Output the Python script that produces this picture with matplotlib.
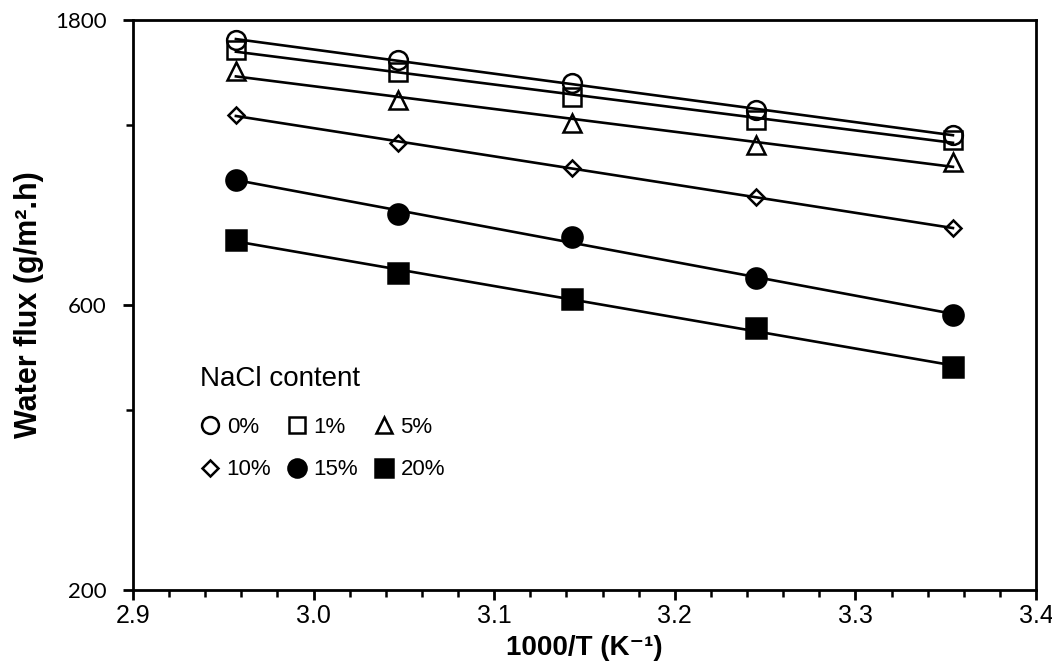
import numpy as np
import matplotlib

matplotlib.use("Agg")
import matplotlib.pyplot as plt
from matplotlib.ticker import FixedLocator, MultipleLocator, NullFormatter, FixedFormatter
from matplotlib import font_manager

# ------------------------------------------------------------
# Data (water flux vs 1000/T, log scale)
# ------------------------------------------------------------
inv_T = np.array([2.957, 3.047, 3.143, 3.245, 3.354])

flux_0 = np.array([1666, 1543, 1412, 1272, 1155])
flux_1 = np.array([1603, 1473, 1338, 1224, 1133])
flux_5 = np.array([1479, 1322, 1210, 1112, 1041])
flux_10 = np.array([1248, 1120, 1017, 910, 807])
flux_15 = np.array([971, 852, 780, 666, 577])
flux_20 = np.array([771, 679, 614, 549, 472])

labels = ["0%", "1%", "5%", "10%", "15%", "20%"]
series = [flux_0, flux_1, flux_5, flux_10, flux_15, flux_20]

y_ticks = [200, 600, 1800]
y_minor = [400, 1200]

# marker, filled, size
styles = [
    ("o", False, 13.5),
    ("s", False, 13.5),
    ("^", False, 13.5),
    ("D", False, 8.5),
    ("o", True, 14.5),
    ("s", True, 14.5),
]

names = {f.name for f in font_manager.fontManager.ttflist}
NARROW = [n for n in ["Liberation Sans Narrow", "Arial Narrow"] if n in names]
NARROW = NARROW + ["Liberation Sans", "DejaVu Sans"]
SANS = ["Liberation Sans", "DejaVu Sans"]

fig = plt.figure(figsize=(10.52, 6.66), dpi=100)
ax = fig.add_axes([0.1264, 0.1141, 0.8584, 0.8559])

handles = []
for vals, lab, (mk, filled, ms) in zip(series, labels, styles):
    # exponential trend line (straight on log axis)
    b, a = np.polyfit(inv_T, np.log(vals), 1)
    xl = np.array([inv_T.min(), inv_T.max()])
    ax.plot(xl, np.exp(a + b * xl), color="black", lw=1.9, zorder=2)

    h, = ax.plot(
        inv_T,
        vals,
        linestyle="none",
        marker=mk,
        markersize=ms,
        markerfacecolor="black" if filled else "none",
        markeredgecolor="black",
        markeredgewidth=1.8,
        zorder=3,
        label=lab,
    )
    handles.append(h)

ax.set_yscale("log")
ax.set_ylim(200, 1800)
ax.set_xlim(2.9, 3.4)

ax.yaxis.set_major_locator(FixedLocator(y_ticks))
ax.yaxis.set_major_formatter(FixedFormatter([str(v) for v in y_ticks]))
ax.yaxis.set_minor_locator(FixedLocator(y_minor))
ax.yaxis.set_minor_formatter(NullFormatter())

ax.xaxis.set_major_locator(MultipleLocator(0.1))
ax.xaxis.set_minor_locator(MultipleLocator(0.02))
ax.xaxis.set_major_formatter(matplotlib.ticker.FormatStrFormatter("%.1f"))

for s in ax.spines.values():
    s.set_linewidth(2.0)
    s.set_color("black")

ax.tick_params(axis="both", which="major", direction="out", length=7, width=2,
               labelsize=16, pad=12)
ax.tick_params(axis="both", which="minor", direction="out", length=5, width=1.8)
ax.tick_params(axis="x", which="major", pad=3)

for t in ax.get_yticklabels():
    t.set_family(["Lato", "DejaVu Sans"])
for t in ax.get_xticklabels():
    t.set_family(NARROW)
    t.set_fontsize(18)

ax.set_xlabel("1000/T (K⁻¹)", fontsize=20, fontweight="bold",
              family=NARROW, labelpad=5)
ax.set_ylabel("Water flux (g/m².h)", fontsize=22, fontweight="bold",
              family=SANS, labelpad=8)

# legend filled row by row: 0% 1% 5% / 10% 15% 20%
order = [0, 3, 1, 4, 2, 5]
leg = ax.legend(
    handles=[handles[i] for i in order],
    labels=[labels[i] for i in order],
    ncol=3,
    title="NaCl content",
    frameon=False,
    loc="upper left",
    bbox_to_anchor=(0.062, 0.412),
    borderpad=0,
    alignment="left",
    handlelength=0.9,
    handletextpad=0.3,
    columnspacing=0.7,
    labelspacing=0.95,
    markerscale=0.9,
    prop={"family": SANS, "size": 16},
    title_fontproperties={"family": SANS, "size": 20},
)
leg._legend_box.sep = 18

fig.savefig("out.png", dpi=100)
